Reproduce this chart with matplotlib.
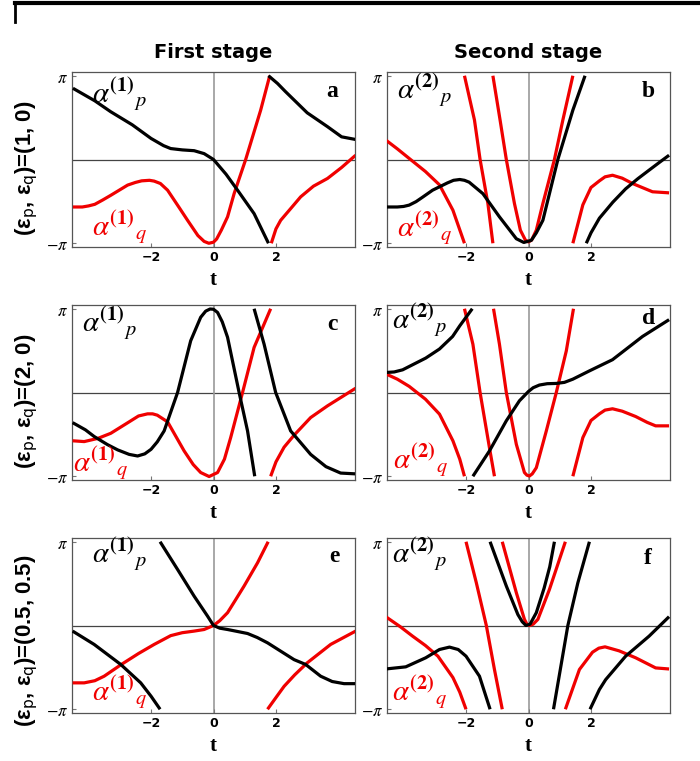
import matplotlib.pyplot as plt
from matplotlib.lines import Line2D
import numpy as np

# phase curves, one list of branches (t, alpha) per panel
a_p = [([-4.5, -3.8, -3.29, -2.6, -2.0, -1.6, -1.37, -1.0, -0.62, -0.3, 0.0, 0.4, 0.77, 1.3, 1.76],
        [2.67, 2.2, 1.79, 1.3, 0.79, 0.52, 0.41, 0.36, 0.33, 0.22, 0.0, -0.55, -1.15, -2.03, -3.14]),
       ([1.76, 2.05, 2.3, 2.58, 3.0, 3.65, 4.1, 4.55],
        [3.14, 2.85, 2.55, 2.23, 1.75, 1.23, 0.85, 0.75])]
a_q = [([-4.5, -4.2, -4.0, -3.8, -3.55, -3.3, -2.75, -2.5, -2.3, -2.05, -1.9, -1.7, -1.47, -1.1, -0.83, -0.5, -0.3, -0.15, 0.0, 0.1, 0.25, 0.45, 0.66, 1.03, 1.51, 1.8],
        [-1.78, -1.78, -1.74, -1.68, -1.52, -1.35, -0.96, -0.86, -0.8, -0.78, -0.81, -0.9, -1.15, -1.8, -2.28, -2.85, -3.07, -3.14, -3.1, -2.98, -2.65, -2.15, -1.28, 0.0, 1.85, 3.14]),
       ([1.85, 2.0, 2.15, 2.5, 2.79, 3.2, 3.65, 4.1, 4.55],
        [-3.14, -2.6, -2.28, -1.8, -1.4, -1.0, -0.71, -0.3, 0.16])]

b_p = [([-4.57, -4.2, -4.0, -3.82, -3.6, -3.4, -3.07, -2.6, -2.4, -2.2, -2.05, -1.9, -1.46, -0.93, -0.6, -0.39, -0.15, 0.09, 0.25, 0.46, 0.94, 1.42, 1.81],
        [-1.78, -1.78, -1.76, -1.71, -1.58, -1.42, -1.15, -0.88, -0.78, -0.75, -0.78, -0.85, -1.28, -2.15, -2.65, -2.97, -3.11, -3.03, -2.75, -2.28, 0.0, 1.85, 3.14]),
       ([1.85, 2.0, 2.27, 2.7, 3.11, 3.5, 3.86, 4.2, 4.5],
        [-3.14, -2.75, -2.2, -1.6, -1.1, -0.72, -0.4, -0.1, 0.16])]
b_q = [([-4.57, -4.2, -3.82, -3.3, -2.85, -2.42, -2.05],
        [0.73, 0.4, 0.04, -0.45, -0.95, -1.9, -3.14]),
       ([-2.05, -1.73, -1.55, -1.3, -1.14],
        [3.14, 1.48, 0.0, -1.65, -3.14]),
       ([-1.14, -0.91, -0.71, -0.45, -0.26, -0.1, 0.0, 0.1, 0.25, 0.46, 0.83, 1.1, 1.42],
        [3.14, 1.48, 0.0, -1.65, -2.65, -3.02, -3.09, -3.02, -2.65, -1.65, 0.0, 1.48, 3.14]),
       ([1.42, 1.74, 2.0, 2.27, 2.45, 2.69, 3.0, 3.33, 3.97, 4.5],
        [-3.14, -1.7, -1.05, -0.8, -0.65, -0.59, -0.7, -0.9, -1.21, -1.25])]

c_p = [([-4.51, -4.1, -3.82, -3.4, -3.07, -2.7, -2.43, -2.2, -2.0, -1.8, -1.58, -1.15, -0.73, -0.41, -0.25, -0.11, 0.0, 0.13, 0.28, 0.45, 0.82, 1.09, 1.32],
        [-1.13, -1.4, -1.65, -1.95, -2.15, -2.32, -2.38, -2.3, -2.13, -1.85, -1.44, 0.0, 1.94, 2.82, 3.05, 3.13, 3.12, 3.0, 2.65, 2.07, 0.0, -1.44, -3.14]),
       ([1.3, 1.62, 1.99, 2.47, 3.11, 3.6, 4.07, 4.55],
        [3.14, 1.81, 0.0, -1.44, -2.32, -2.78, -3.02, -3.05])]
c_q = [([-4.51, -4.14, -3.7, -3.29, -2.7, -2.4, -2.11, -1.95, -1.8, -1.47, -0.94, -0.65, -0.41, -0.14, 0.13, 0.35, 0.55, 0.93, 1.3, 1.83],
        [-1.81, -1.84, -1.72, -1.53, -1.1, -0.88, -0.8, -0.8, -0.85, -1.1, -2.19, -2.7, -3.0, -3.15, -3.0, -2.5, -1.69, 0.0, 1.69, 3.14]),
       ([1.83, 2.0, 2.26, 2.58, 3.11, 3.65, 4.1, 4.55],
        [-3.14, -2.6, -2.05, -1.6, -0.94, -0.5, -0.17, 0.16])]

d_p = [([-4.57, -4.3, -4.03, -3.29, -2.85, -2.43, -2.2, -1.8],
        [0.75, 0.77, 0.85, 1.29, 1.63, 2.1, 2.5, 3.14]),
       ([-1.78, -1.25, -0.71, -0.29, 0.0, 0.15, 0.35, 0.6, 0.89, 1.15, 1.42, 1.95, 2.69, 3.65, 4.5],
        [-3.14, -2.19, -1.06, -0.31, 0.04, 0.18, 0.28, 0.33, 0.34, 0.38, 0.5, 0.81, 1.23, 2.1, 2.73])]
d_q = [([-4.57, -4.2, -3.82, -3.3, -2.85, -2.42, -2.2, -2.05],
        [0.7, 0.5, 0.23, -0.25, -0.81, -1.81, -2.5, -3.14]),
       ([-2.05, -1.78, -1.55, -1.25, -1.09],
        [3.14, 1.81, 0.0, -2.07, -3.14]),
       ([-1.12, -0.93, -0.71, -0.39, -0.13, -0.05, 0.03, 0.12, 0.25, 0.57, 0.89, 1.21, 1.44],
        [3.14, 1.81, 0.0, -1.94, -3.0, -3.1, -3.13, -3.05, -2.82, -1.44, 0.0, 1.56, 3.14]),
       ([1.42, 1.74, 2.0, 2.27, 2.45, 2.69, 3.0, 3.43, 3.8, 4.07, 4.5],
        [-3.14, -1.69, -1.05, -0.8, -0.66, -0.61, -0.7, -0.9, -1.12, -1.25, -1.25])]

e_p = [([-4.51, -3.82, -2.97, -2.33, -2.0, -1.71],
        [-0.21, -0.71, -1.46, -2.15, -2.65, -3.14]),
       ([-1.71, -1.15, -0.62, -0.19, 0.0, 0.2, 0.45, 0.75, 1.09, 1.4, 1.73, 2.58, 2.95, 3.43, 3.8, 4.18, 4.55],
        [3.14, 2.1, 1.1, 0.35, 0.0, -0.1, -0.15, -0.22, -0.3, -0.45, -0.65, -1.28, -1.46, -1.9, -2.1, -2.18, -2.18])]
e_q = [([-4.51, -4.14, -3.8, -3.5, -2.95, -2.4, -1.9, -1.37, -1.0, -0.62, -0.3, 0.0, 0.2, 0.45, 0.7, 0.98, 1.41, 1.75],
        [-2.15, -2.15, -2.07, -1.9, -1.46, -1.05, -0.71, -0.38, -0.27, -0.21, -0.15, 0.0, 0.18, 0.48, 0.95, 1.48, 2.35, 3.14]),
       ([1.73, 2.0, 2.26, 2.6, 3.0, 3.75, 4.55],
        [-3.14, -2.7, -2.28, -1.85, -1.4, -0.71, -0.21])]

f_p = [([-4.57, -3.93, -3.29, -2.85, -2.53, -2.25, -2.0, -1.57, -1.23],
        [-1.63, -1.55, -1.21, -0.9, -0.81, -0.9, -1.15, -1.9, -3.14]),
       ([-1.23, -0.71, -0.34, -0.2, -0.08, 0.05, 0.25, 0.5, 0.68, 0.83],
        [3.14, 1.48, 0.41, 0.14, 0.0, 0.05, 0.48, 1.4, 2.2, 3.14]),
       ([0.8, 1.26, 1.58, 1.95],
        [-3.14, 0.0, 1.6, 3.14]),
       ([1.97, 2.27, 2.47, 3.11, 3.86, 4.5],
        [-3.14, -2.4, -2.03, -1.15, -0.4, 0.33])]
f_q = [([-4.57, -4.1, -3.71, -3.3, -2.9, -2.42, -2.2, -2.0],
        [0.33, -0.05, -0.4, -0.75, -1.15, -1.95, -2.5, -3.14]),
       ([-2.0, -1.67, -1.35, -1.09, -0.84],
        [3.14, 1.6, 0.0, -1.65, -3.14]),
       ([-0.84, -0.39, -0.13, -0.05, 0.03, 0.15, 0.3, 0.67, 1.18],
        [3.14, 1.23, 0.23, 0.05, 0.0, 0.05, 0.23, 1.35, 3.14]),
       ([1.18, 1.63, 2.05, 2.25, 2.45, 2.9, 3.43, 4.07, 4.5],
        [-3.14, -1.65, -1.0, -0.85, -0.8, -0.95, -1.21, -1.59, -1.63])]

letters = ['a', 'b', 'c', 'd', 'e', 'f']
stage = ['1', '2']
row_vals = ['(1, 0)', '(2, 0)', '(0.5, 0.5)']
curves = [(a_p, a_q), (b_p, b_q), (c_p, c_q), (d_p, d_q), (e_p, e_q), (f_p, f_q)]

# label positions (axes fraction) per panel: p label, q label, letter
p_pos = [(0.07, 0.83), (0.034, 0.85), (0.034, 0.85), (0.017, 0.87), (0.07, 0.86), (0.017, 0.86)]
q_pos = [(0.07, 0.07), (0.034, 0.06), (0.004, 0.05), (0.022, 0.067), (0.07, 0.073), (0.017, 0.073)]
let_pos = [(0.94, 0.86), (0.947, 0.86), (0.94, 0.86), (0.947, 0.89), (0.947, 0.86), (0.935, 0.85)]

fig = plt.figure(figsize=(7, 7.61), dpi=100)

lefts = [72/700., 387/700.]
bottoms = [1 - 247/761., 1 - 480/761., 1 - 713/761.]
W = 283/700.
H = 175/761.
RED = '#f00000'

for k in range(6):
	r, c = k // 2, k % 2
	ax = fig.add_axes([lefts[c], bottoms[r], W, H])
	ax.axhline(0, color='#444444', lw=0.9, zorder=1)
	ax.axvline(0, color='#999999', lw=1.2, zorder=1)
	pb, qb = curves[k]
	for t, y in qb:
		ax.plot(t, y, color=RED, lw=2.3, solid_capstyle='butt', solid_joinstyle='round', zorder=3)
	for t, y in pb:
		ax.plot(t, y, color='black', lw=2.3, solid_capstyle='butt', solid_joinstyle='round', zorder=4)
	ax.set_xlim(-4.53, 4.53)
	ax.set_ylim(-3.28, 3.28)
	ax.set_xticks([-2, 0, 2])
	ax.set_xticklabels([u'\u22122', '0', '2'], fontweight='bold', fontsize=9, family='DejaVu Sans')
	ax.set_yticks([-np.pi, np.pi])
	ax.set_yticklabels([r'$-\pi$', r'$\pi$'], fontsize=12, math_fontfamily='stix')
	ax.tick_params(direction='in', length=3, width=0.8, color='#777777', pad=3)
	for s in ax.spines.values():
		s.set_color('#555555')
		s.set_linewidth(0.9)
	ax.set_xlabel('t', fontsize=15, fontweight='bold', family='Liberation Serif', labelpad=4)
	st = stage[c]
	ax.text(p_pos[k][0], p_pos[k][1], r'$\alpha^{\mathbf{(%s)}}{}_{p}$' % st, transform=ax.transAxes,
			fontsize=21, color='black', math_fontfamily='stix', zorder=6)
	ax.text(q_pos[k][0], q_pos[k][1], r'$\alpha^{\mathbf{(%s)}}{}_{q}$' % st, transform=ax.transAxes,
			fontsize=21, color=RED, math_fontfamily='stix', zorder=6)
	ax.text(let_pos[k][0], let_pos[k][1], letters[k], transform=ax.transAxes, ha='right',
			fontsize=17, fontweight='bold', family='Liberation Serif', zorder=6)

fig.text(213/700., 1 - 53/761., 'First stage', ha='center', va='center', fontsize=14, fontweight='bold')
fig.text(528/700., 1 - 53/761., 'Second stage', ha='center', va='center', fontsize=14, fontweight='bold')

row_y = [1 - 168/761., 1 - 401/761., 1 - 641/761.]
for r in range(3):
	lab = u'(\u03b5$_\\mathrm{p}$, \u03b5$_\\mathrm{q}$)=' + row_vals[r]
	fig.text(27/700., row_y[r], lab, rotation=90, ha='center', va='center',
			 fontsize=16, fontweight='bold', family='Liberation Sans', math_fontfamily='dejavusans')

# border fragment at the top of the page
fig.add_artist(Line2D([15/700., 1.0], [1 - 3/761., 1 - 3/761.], transform=fig.transFigure, color='black', lw=3))
fig.add_artist(Line2D([15/700., 15/700.], [1 - 2/761., 1 - 22/761.], transform=fig.transFigure, color='black', lw=2))

fig.savefig('out.png', dpi=100)
